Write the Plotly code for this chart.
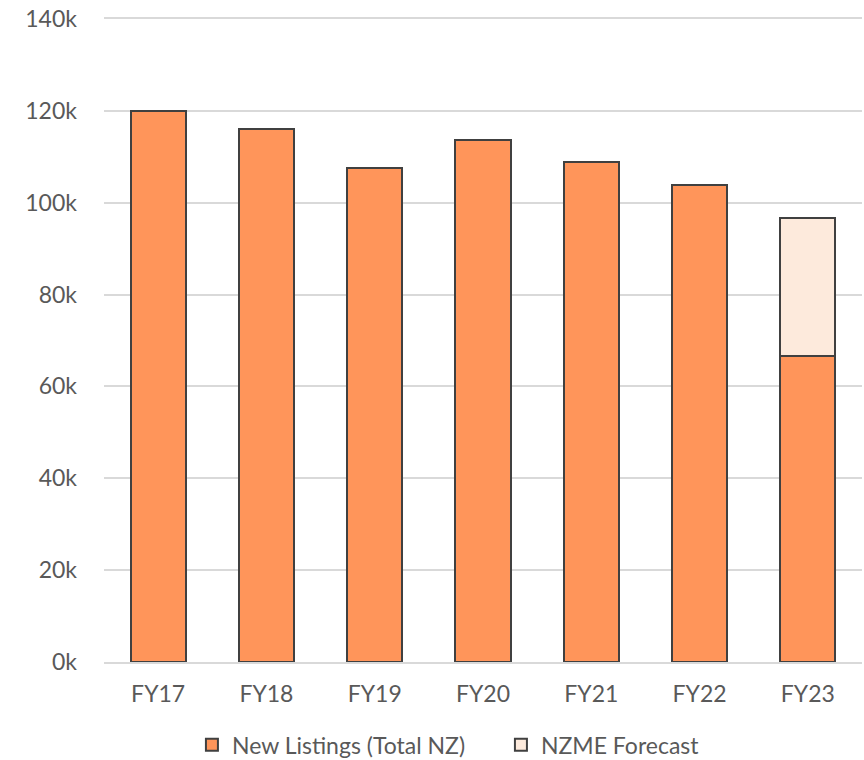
import plotly.graph_objects as go

categories = ["FY17", "FY18", "FY19", "FY20", "FY21", "FY22", "FY23"]
new_listings = [120000, 116000, 107600, 113700, 108900, 103900, 66600]
nzme_forecast = [None, None, None, None, None, None, 30100]
y_tickvals = [0, 20000, 40000, 60000, 80000, 100000, 120000, 140000]
y_ticktext = ["0k", "20k", "40k", "60k", "80k", "100k", "120k", "140k"]

fig = go.Figure()
fig.add_trace(go.Bar(
    x=categories, y=new_listings, name="New Listings (Total NZ)",
    marker=dict(color="#FF955A", line=dict(color="#404040", width=2)),
))
fig.add_trace(go.Bar(
    x=categories, y=nzme_forecast, name="NZME Forecast",
    marker=dict(color="#FDEADC", line=dict(color="#404040", width=2)),
))

font_family = "Lato, 'Open Sans', sans-serif"
fs = 23
fig.update_layout(
    barmode="stack",
    bargap=0.49,
    width=864, height=760,
    margin=dict(l=104, r=2, t=19, b=98, autoexpand=False),
    plot_bgcolor="white", paper_bgcolor="white",
    font=dict(family=font_family, size=fs, color="#595959"),
    showlegend=True,
    legend=dict(orientation="h", x=0.116, xanchor="left",
                yref="container", y=0.02, yanchor="middle",
                font=dict(size=fs, color="#595959"), traceorder="normal",
                itemwidth=30, tracegroupgap=0, entrywidth=264),
    xaxis=dict(showgrid=False, showline=True, linecolor="#D9D9D9", linewidth=2,
               mirror=True, ticks="", ticklabelstandoff=10, automargin=False,
               tickfont=dict(size=fs, color="#595959")),
    yaxis=dict(range=[0, 140000], tickvals=y_tickvals, ticktext=y_ticktext,
               showgrid=True, gridcolor="#D9D9D9", gridwidth=1.5, zeroline=False,
               showline=False, ticks="", ticklabelstandoff=26, automargin=False,
               ticklabeloverflow="allow",
               tickfont=dict(size=fs, color="#595959")),
)
fig.write_html("out.html",
               config={"displayModeBar": False},
               post_script="document.body.style.margin='0';document.body.style.overflow='hidden';")
